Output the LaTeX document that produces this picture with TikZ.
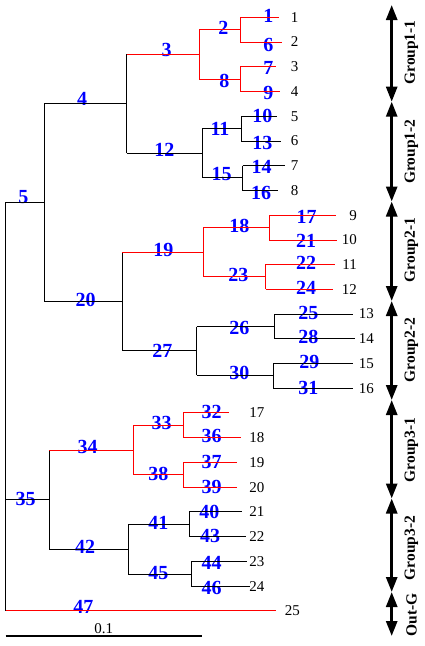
\documentclass[tikz,border=0pt]{standalone}
\usepackage{fontspec}
\setmainfont{Liberation Serif}
\usepackage{tikz}
\usetikzlibrary{calc,arrows.meta}

\tikzset{
  branch/.style={line width=0.9pt},
  clade/.style={font=\fontsize{20}{20}\selectfont\bfseries, text=blue, inner sep=0pt},
  otu/.style={font=\fontsize{15}{15}\selectfont, inner sep=0pt, anchor=east},
  grouparrow/.style={line width=2.7pt, {Triangle[length=15pt,width=11pt]}-{Triangle[length=15pt,width=11pt]}},
  grouplabel/.style={font=\fontsize{15.5}{15.5}\selectfont\bfseries, rotate=90, inner sep=0pt}
}

\begin{document}
\begin{tikzpicture}[x=1pt,y=-1pt]
\useasboundingbox (0,0) rectangle (424,646);
% tree vertices
\coordinate (v0) at (5.7,400);
\coordinate (v5) at (44.3,202.3);
\coordinate (v4) at (126.7,103.3);
\coordinate (v3) at (199.3,54.3);
\coordinate (v2) at (240,29.3);
\coordinate (v1) at (279,17.3);
\coordinate (v6) at (281.7,42.3);
\coordinate (v8) at (240,79);
\coordinate (v7) at (276,66.7);
\coordinate (v9) at (280,91);
\coordinate (v12) at (202.3,153.3);
\coordinate (v11) at (241,128.3);
\coordinate (v10) at (276.7,116);
\coordinate (v13) at (281,141);
\coordinate (v15) at (242.7,177.7);
\coordinate (v14) at (285,165.7);
\coordinate (v16) at (278,190.7);
\coordinate (v20) at (122.3,301);
\coordinate (v19) at (203.3,252.3);
\coordinate (v18) at (269.3,227.7);
\coordinate (v17) at (336,215);
\coordinate (v21) at (336.7,240);
\coordinate (v23) at (265.7,276.7);
\coordinate (v22) at (335,264.3);
\coordinate (v24) at (333.3,289.3);
\coordinate (v27) at (196.7,350.7);
\coordinate (v26) at (274,326.7);
\coordinate (v25) at (353.3,314.3);
\coordinate (v28) at (355,338.3);
\coordinate (v30) at (273.3,375);
\coordinate (v29) at (353.3,363.3);
\coordinate (v31) at (353,388.3);
\coordinate (v35) at (49.3,499);
\coordinate (v34) at (133.3,450);
\coordinate (v33) at (183.3,425);
\coordinate (v32) at (229.3,412.7);
\coordinate (v36) at (240.7,437.7);
\coordinate (v38) at (183.3,474.7);
\coordinate (v37) at (237.3,462.3);
\coordinate (v39) at (236.7,487.3);
\coordinate (v42) at (128.3,549);
\coordinate (v41) at (189,524.3);
\coordinate (v40) at (241.7,511.7);
\coordinate (v43) at (246,536.7);
\coordinate (v45) at (191,574);
\coordinate (v44) at (246.7,561.7);
\coordinate (v46) at (250,586);
\coordinate (v47) at (276,610.7);

% clade numbers
\foreach \n/\x/\y in {1/268.3/16, 2/223.3/28.3, 3/166.7/50, 4/82/99, 5/23.3/196.7,
  6/268.3/45, 7/268.3/68.3, 8/224.3/81, 9/268.3/92.7, 10/262.3/116, 11/220/129.3,
  12/164.3/150.3, 13/262.3/143.3, 14/261.7/167.3, 15/221.7/174, 16/261/193.3,
  17/306.7/216.7, 18/239.3/226, 19/163.3/250, 20/85.7/300, 21/306/241,
  22/306/263.3, 23/238.3/275, 24/306/288.3, 25/308.3/313.3, 26/239.3/328.3,
  27/162.3/350.7, 28/308.3/337.3, 29/309.3/361.7, 30/239.3/373.3, 31/308.3/388.3,
  32/211.7/411.7, 33/161.7/423.3, 34/87.7/446.7, 35/25.7/499, 36/211.7/436,
  37/211.7/461.7, 38/158.3/474, 39/211.7/487.3, 40/209.3/511.7, 41/158.3/523.3,
  42/85/546.7, 43/210/536, 44/211.7/563.3, 45/158.3/573.3, 46/211.7/588.3,
  47/83.3/606.7}
  \node[clade] (l\n) at (\x,\y) {\n};

% vertical bars
\foreach \p/\a/\b/\c in {v0/v5/v47/black, v5/v4/v20/black, v4/v3/v12/black,
  v3/v2/v8/red, v2/v1/v6/red, v8/v7/v9/red, v12/v11/v15/black, v11/v10/v13/black,
  v15/v14/v16/black, v20/v19/v27/black, v19/v18/v23/red, v18/v17/v21/red,
  v23/v22/v24/red, v27/v26/v30/black, v26/v25/v28/black, v30/v29/v31/black,
  v35/v34/v42/black, v34/v33/v38/red, v33/v32/v36/red, v38/v37/v39/red,
  v42/v41/v45/black, v41/v40/v43/black, v45/v44/v46/black}
  \draw[branch,draw=\c] (\p |- \a) -- (\p |- \b);

% horizontal branches
\foreach \p/\a/\c in {v0/v5/black, v0/v35/black, v0/v47/red, v5/v4/black,
  v5/v20/black, v4/v3/red, v4/v12/black, v3/v2/red, v3/v8/red, v2/v1/red,
  v2/v6/red, v8/v7/red, v8/v9/red, v12/v11/black, v12/v15/black, v11/v10/black,
  v11/v13/black, v15/v14/black, v15/v16/black, v20/v19/red, v20/v27/black,
  v19/v18/red, v19/v23/red, v18/v17/red, v18/v21/red, v23/v22/red, v23/v24/red,
  v27/v26/black, v27/v30/black, v26/v25/black, v26/v28/black, v30/v29/black,
  v30/v31/black, v35/v34/red, v35/v42/black, v34/v33/red, v34/v38/red,
  v33/v32/red, v33/v36/red, v38/v37/red, v38/v39/red, v42/v41/black,
  v42/v45/black, v41/v40/black, v41/v43/black, v45/v44/black, v45/v46/black}
  \draw[branch,draw=\c] (\p |- \a) -- (\a);

% sample numbers
\foreach \n in {1,...,8}
  \node[otu] (t\n) at (298.5,{17.3+(\n-1)*24.73}) {\n};
\foreach \n in {9,...,12}
  \node[otu] (t\n) at (357,{17.3+(\n-1)*24.73}) {\n};
\foreach \n in {13,...,16}
  \node[otu] (t\n) at (374,{17.3+(\n-1)*24.73}) {\n};
\foreach \n in {17,...,24}
  \node[otu] (t\n) at (264.5,{17.3+(\n-1)*24.73}) {\n};
\node[otu] (t25) at (300,610.7) {25};

% scale bar
\coordinate (s0) at (5.7,636);
\coordinate (s1) at (201.7,636);
\draw[line width=2pt] (s0) -- node[above=1.5pt, font=\fontsize{15}{15}\selectfont, inner sep=0pt] (sl) {0.1} (s1);

% group arrows
\foreach \i/\y in {0/5, 1/101.7, 2/201.5, 3/301, 4/400, 5/498.5, 6/592, 7/636}
  \coordinate (a\i) at (391.7,\y);
\foreach \i/\j in {0/1, 1/2, 2/3, 3/4, 4/5, 5/6, 6/7}
  \draw[grouparrow] (a\i) -- (a\j);
\node[grouplabel] (g1) at (411.5,52.5) {Group1-1};
\node[grouplabel] (g2) at (411.5,151.7) {Group1-2};
\node[grouplabel] (g3) at (411.5,250) {Group2-1};
\node[grouplabel] (g4) at (411.5,350) {Group2-2};
\node[grouplabel] (g5) at (411.5,450) {Group3-1};
\node[grouplabel] (g6) at (411.5,548) {Group3-2};
\node[grouplabel] (g7) at (411.5,615) {Out-G};
\end{tikzpicture}
\end{document}
